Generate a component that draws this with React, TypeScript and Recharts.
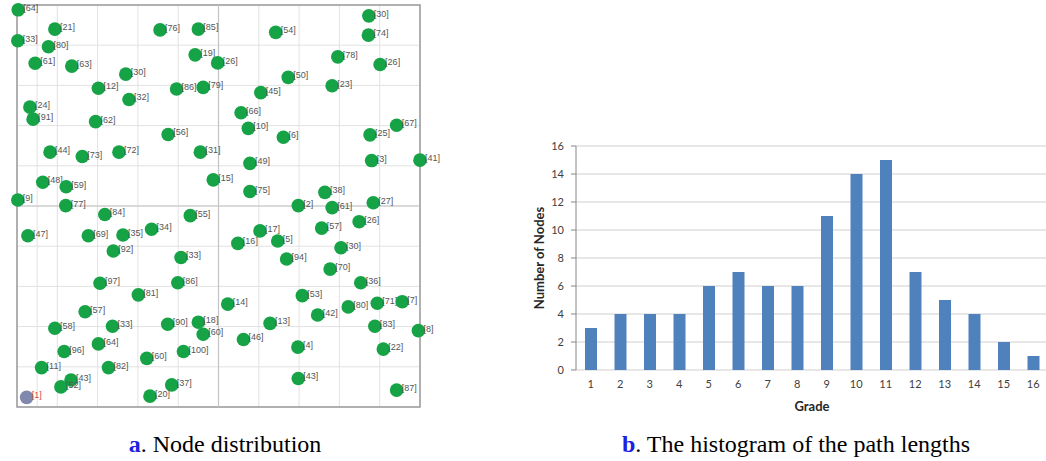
import React from "react";
import {
  Bar,
  BarChart,
  CartesianGrid,
  ReferenceArea,
  ReferenceLine,
  Scatter,
  ScatterChart,
  XAxis,
  YAxis,
} from "recharts";

// node ids and positions (field coordinates, 0..100)
const nodeIds = [
  64, 21, 33, 80, 61, 63, 76, 85, 19, 26, 30, 12, 32, 86, 79, 24, 91, 62, 56,
  30, 74, 54, 78, 26, 50, 23, 45, 66, 10, 67, 25, 6,
  44, 73, 72, 31, 15, 48, 59, 9, 77, 84, 55, 47, 69, 35, 34, 92, 33,
  49, 3, 41, 75, 38, 2, 61, 27, 26, 57, 17, 5, 16, 30, 94, 70,
  97, 86, 81, 57, 58, 33, 90, 18, 60, 96, 64, 100, 60, 11, 82, 43, 52, 37, 20,
  36, 53, 14, 80, 71, 7, 42, 13, 83, 8, 46, 4, 22, 43, 87,
];
const nodeX = [
  0.3, 9.4, 0.2, 7.8, 4.5, 13.6, 35.5, 45.0, 44.2, 49.8, 27.0, 20.2, 27.8, 39.6, 46.2, 3.2, 4.0, 19.5, 37.5,
  87.3, 87.2, 64.2, 79.6, 90.1, 67.3, 78.2, 60.5, 55.6, 57.4, 94.2, 87.6, 66.1,
  8.2, 16.2, 25.3, 45.5, 48.7, 6.4, 12.2, 0.2, 12.1, 21.8, 43.0, 2.7, 17.7, 26.3, 33.4, 23.9, 40.7,
  57.8, 88.0, 100.0, 57.8, 76.4, 69.8, 78.2, 88.4, 84.9, 75.6, 60.3, 64.7, 54.8, 80.4, 66.9, 77.7,
  20.6, 39.9, 30.1, 16.9, 9.4, 23.7, 37.4, 45.0, 46.2, 11.7, 20.2, 41.3, 32.2, 6.1, 22.7, 13.4, 10.9, 38.4, 33.0,
  85.3, 70.8, 52.3, 82.2, 89.4, 95.6, 74.6, 62.8, 88.8, 99.6, 56.2, 69.7, 90.9, 69.8, 94.2,
];
const nodeY = [
  98.8, 94.0, 91.1, 89.6, 85.5, 84.8, 93.8, 94.0, 87.6, 85.6, 82.8, 79.3, 76.5, 79.1, 79.5, 74.6, 71.6, 71.0, 67.8,
  97.3, 92.5, 93.2, 87.1, 85.2, 82.0, 79.9, 78.2, 73.2, 69.3, 70.1, 67.7, 67.1,
  63.4, 62.3, 63.4, 63.4, 56.5, 55.9, 54.8, 51.5, 50.1, 47.9, 47.6, 42.6, 42.6, 42.8, 44.2, 38.8, 37.2,
  60.6, 61.3, 61.4, 53.6, 53.4, 50.1, 49.6, 50.8, 46.1, 44.5, 43.8, 41.3, 40.7, 39.6, 36.8, 34.3,
  30.8, 30.9, 27.9, 23.7, 19.6, 20.1, 20.6, 21.1, 18.1, 13.8, 15.7, 13.8, 12.1, 9.8, 9.8, 6.7, 5.0, 5.5, 2.7,
  30.9, 27.7, 25.6, 24.9, 25.8, 26.2, 22.9, 20.8, 20.1, 19.0, 16.8, 14.9, 14.4, 7.1, 4.2,
];
const sinkIds = [1];
const sinkX = [2.4];
const sinkY = [2.4];
const fieldTicks = [0, 5, 10, 15, 20, 25, 30, 35, 40, 45, 50, 55, 60, 65, 70, 75, 80, 85, 90, 95, 100];

// histogram of path lengths
const grades = [1, 2, 3, 4, 5, 6, 7, 8, 9, 10, 11, 12, 13, 14, 15, 16];
const nodeCounts = [3, 4, 4, 4, 6, 7, 6, 6, 11, 14, 15, 7, 5, 4, 2, 1];
const countTicks = [0, 2, 4, 6, 8, 10, 12, 14, 16];
const gradeEdges = [0.5, 1.5, 2.5, 3.5, 4.5, 5.5, 6.5, 7.5, 8.5, 9.5, 10.5, 11.5, 12.5, 13.5, 14.5, 15.5, 16.5];

const nodes = nodeIds.map((id, i) => ({ id, x: nodeX[i], y: nodeY[i] }));
const sinks = sinkIds.map((id, i) => ({ id, x: sinkX[i], y: sinkY[i] }));
const histData = grades.map((g, i) => ({ grade: g, count: nodeCounts[i] }));

const chartFont = "Lato, 'Liberation Sans', sans-serif";

function NodeDot(props: any) {
  const { cx, cy, payload, color, labelColor } = props;
  return (
    <g>
      <circle cx={cx} cy={cy} r={6.8} fill={color} />
      <text x={cx + 5} y={cy + 1} fontSize={9} fill={labelColor} fontFamily="'Liberation Sans', Arial, sans-serif">
        [{payload.id}]
      </text>
    </g>
  );
}

function GradeTitle({ viewBox }: any) {
  return (
    <text x={viewBox.x + viewBox.width / 2} y={viewBox.y + 41} textAnchor="middle" fontSize={13} fontWeight="bold" fill="#262626" fontFamily={chartFont}>
      Grade
    </text>
  );
}

function CountTitle({ viewBox }: any) {
  const cx = viewBox.x + 19;
  const cy = viewBox.y + viewBox.height / 2;
  return (
    <text x={cx} y={cy} transform={`rotate(-90 ${cx} ${cy})`} textAnchor="middle" dominantBaseline="central" fontSize={13} fontWeight="bold" fill="#262626" fontFamily={chartFont}>
      Number of Nodes
    </text>
  );
}

const captionStyle: React.CSSProperties = {
  position: "absolute",
  top: 430,
  textAlign: "center",
  fontFamily: "'Liberation Serif', 'Times New Roman', serif",
  fontSize: 24,
  lineHeight: "28px",
  color: "#000",
  whiteSpace: "nowrap",
};

export default function App() {
  return (
    <div style={{ position: "absolute", left: 0, top: 0, width: 1046, height: 461, overflow: "hidden", background: "#fff" }}>
      <div style={{ position: "absolute", left: 0, top: 0 }}>
        <ScatterChart width={450} height={415} margin={{ top: 5, right: 30, bottom: 8, left: 17 }}>
          <CartesianGrid stroke="#e2e2e2" />
          <XAxis type="number" dataKey="x" domain={[0, 100]} ticks={fieldTicks} hide />
          <YAxis type="number" dataKey="y" domain={[0, 100]} ticks={fieldTicks} hide />
          <ReferenceLine x={50} stroke="#c4c4c4" strokeWidth={1.2} />
          <ReferenceLine y={50} stroke="#c4c4c4" strokeWidth={1.2} />
          <ReferenceArea x1={0} x2={100} y1={0} y2={100} fill="none" stroke="#9a9a9a" strokeWidth={1.5} />
          <Scatter data={nodes} isAnimationActive={false} shape={(p: any) => <NodeDot {...p} color="#16a346" labelColor="#555" />} />
          <Scatter data={sinks} isAnimationActive={false} shape={(p: any) => <NodeDot {...p} color="#8088ad" labelColor="#e04848" />} />
        </ScatterChart>
      </div>

      <div style={{ position: "absolute", left: 520, top: 130 }}>
        <BarChart width={530} height={290} data={histData} margin={{ top: 16, right: 2, bottom: 0, left: 0 }} barSize={12}>
          <CartesianGrid xAxisId="grade" vertical={false} stroke="#cfcfcf" />
          <XAxis
            xAxisId="edges"
            type="number"
            domain={[0.5, 16.5]}
            ticks={gradeEdges}
            allowDataOverflow
            height={0}
            tick={false}
            tickSize={5}
            tickLine={{ stroke: "#888" }}
            axisLine={{ stroke: "#888" }}
          />
          <XAxis
            xAxisId="grade"
            dataKey="grade"
            height={50}
            interval={0}
            axisLine={false}
            tickLine={false}
            tickSize={6}
            tickMargin={4}
            tick={{ fontSize: 11, fill: "#404040", fontFamily: chartFont }}
            label={{ content: GradeTitle }}
          />
          <YAxis
            width={56}
            domain={[0, 16]}
            ticks={countTicks}
            tickSize={5}
            tickMargin={7}
            tickLine={{ stroke: "#888" }}
            axisLine={{ stroke: "#888" }}
            tick={{ fontSize: 11, fill: "#404040", fontFamily: chartFont }}
            label={{ content: CountTitle }}
          />
          <Bar xAxisId="grade" dataKey="count" fill="#4f81bd" isAnimationActive={false} />
        </BarChart>
      </div>

      <div style={{ ...captionStyle, left: 0, width: 450 }}>
        <b style={{ color: "#2020e0" }}>a</b>. Node distribution
      </div>
      <div style={{ ...captionStyle, left: 571, width: 450 }}>
        <b style={{ color: "#2020e0" }}>b</b>. The histogram of the path lengths
      </div>
    </div>
  );
}
